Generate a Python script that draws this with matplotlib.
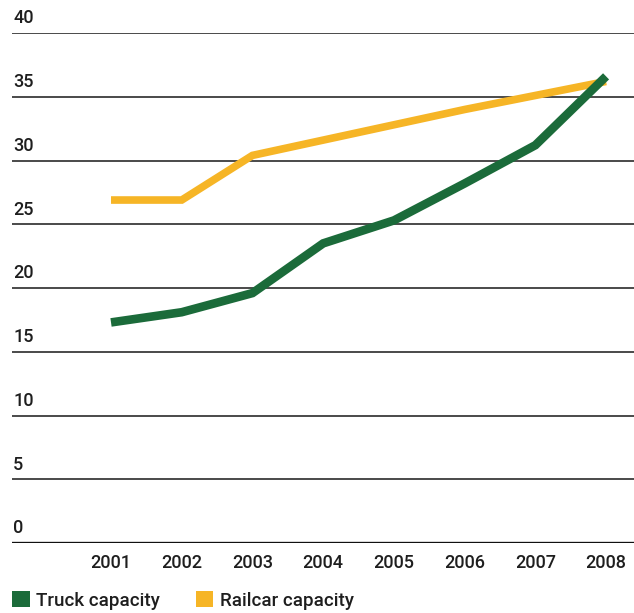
import matplotlib
matplotlib.use("Agg")
import matplotlib.pyplot as plt
from matplotlib.patches import Patch

plt.rcParams['font.family'] = ['Roboto', 'DejaVu Sans']

years = [2001, 2002, 2003, 2004, 2005, 2006, 2007, 2008]
truck = [17.3, 18.1, 19.6, 23.5, 25.3, 28.2, 31.2, 36.6]
railcar = [26.9, 26.9, 30.4, 31.6, 32.8, 34.0, 35.1, 36.2]
yticks = [0, 5, 10, 15, 20, 25, 30, 35, 40]
series_names = ["Truck capacity", "Railcar capacity"]

green = "#1b6b3a"
yellow = "#f6b526"
ink = "#1e1e1e"

fig = plt.figure(figsize=(6.34, 6.13), dpi=100)
ax = fig.add_axes([12 / 634, 70 / 613, 622 / 634, 510 / 613])
ax.set_xlim(1999.6, 2008.395)
ax.set_ylim(0, 40)

# horizontal rules with their values sitting above them on the left
for v in yticks:
    if v == 0:
        ax.axhline(v, color="#111111", lw=2.4, zorder=1)
    else:
        ax.axhline(v, color="#3c3c3c", lw=1.3, zorder=1)
    ax.text(0.002, v + 0.45, str(v), transform=ax.get_yaxis_transform(),
            ha="left", va="bottom", fontsize=13, color=ink, fontweight="medium")

ax.plot(years, railcar, color=yellow, lw=5.5, solid_joinstyle="miter",
        solid_capstyle="butt", zorder=3, clip_on=False)
ax.plot(years, truck, color=green, lw=6.2, solid_joinstyle="miter",
        solid_capstyle="butt", zorder=4, clip_on=False)

ax.set_xticks(years)
ax.set_xticklabels([str(y) for y in years], fontsize=13, color=ink, fontweight="medium")
ax.tick_params(axis="x", length=0, pad=8)
ax.set_yticks([])
for s in ax.spines.values():
    s.set_visible(False)

handles = [Patch(facecolor=green, edgecolor="none"),
           Patch(facecolor=yellow, edgecolor="none")]
fig.legend(handles, series_names, loc="lower left", bbox_to_anchor=(-0.008, -0.022),
           ncol=2, frameon=False, handlelength=0.95, handleheight=0.95,
           handletextpad=0.35, columnspacing=1.9, labelcolor=ink,
           prop={"size": 13.5, "weight": "medium"})

fig.savefig("out.png", dpi=100, facecolor="white")
